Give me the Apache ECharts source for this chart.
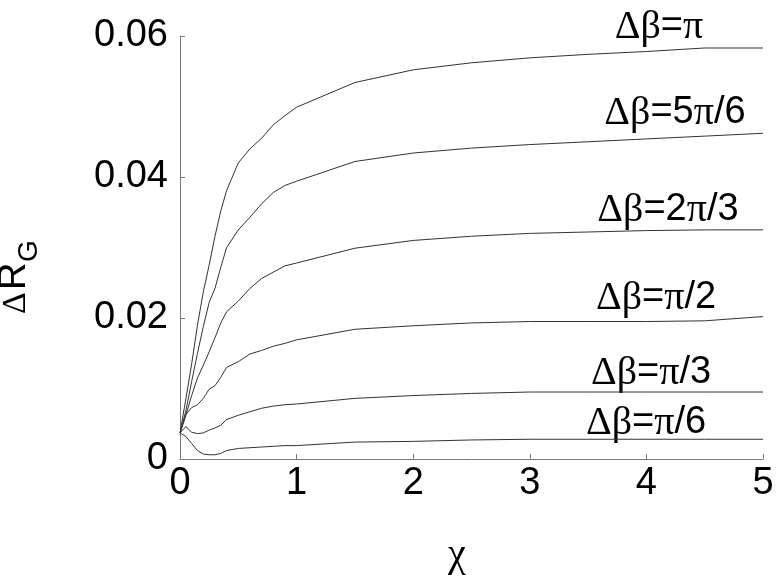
<!DOCTYPE html>
<html>
<head>
<meta charset="utf-8">
<script src="https://cdn.jsdelivr.net/npm/echarts@6/dist/echarts.min.js"></script>
<style>
html,body{margin:0;padding:0;background:#fff;}
#main{width:782px;height:579px;}
</style>
</head>
<body>
<div id="main"></div>
<script>
// χ sample points
var chi = [0, 0.05, 0.1, 0.15, 0.2, 0.25, 0.3, 0.35, 0.4, 0.5, 0.6, 0.7, 0.8, 0.9, 1.0, 1.5, 2, 2.5, 3, 3.5, 4, 4.5, 5];

// ΔR_G values per Δβ
var dPi    = [0.0037, 0.0085, 0.0135, 0.0190, 0.0237, 0.0275, 0.0316, 0.0352, 0.0381, 0.0420, 0.0440, 0.0455, 0.0474, 0.0487, 0.0499, 0.0534, 0.0552, 0.0562, 0.0569, 0.0574, 0.0578, 0.0583, 0.0583];
var d5Pi6  = [0.0037, 0.0068, 0.0110, 0.0150, 0.0188, 0.0222, 0.0242, 0.0272, 0.0300, 0.0325, 0.0343, 0.0362, 0.0378, 0.0388, 0.0394, 0.0422, 0.0434, 0.0441, 0.0446, 0.0450, 0.0454, 0.0458, 0.0462];
var d2Pi3  = [0.0037, 0.0062, 0.0090, 0.0115, 0.0133, 0.0152, 0.0172, 0.0193, 0.0209, 0.0224, 0.0242, 0.0256, 0.0265, 0.0274, 0.0278, 0.0299, 0.0310, 0.0316, 0.0320, 0.0322, 0.0324, 0.0325, 0.0325];
var dPi2   = [0.0037, 0.0063, 0.0073, 0.0077, 0.0086, 0.0099, 0.0104, 0.0116, 0.0130, 0.0138, 0.0149, 0.0154, 0.0160, 0.0164, 0.0169, 0.0184, 0.0189, 0.0193, 0.0195, 0.0195, 0.0195, 0.0196, 0.0202];
var dPi3   = [0.0037, 0.0046, 0.0038, 0.0036, 0.0037, 0.0041, 0.0044, 0.0048, 0.0056, 0.0062, 0.0067, 0.0072, 0.0075, 0.0077, 0.0078, 0.0086, 0.0090, 0.0093, 0.0095, 0.0095, 0.0095, 0.0095, 0.0095];
var dPi6   = [0.0037, 0.0032, 0.0022, 0.0012, 0.0007, 0.0006, 0.0006, 0.0008, 0.0012, 0.0015, 0.0016, 0.0017, 0.0018, 0.0019, 0.0019, 0.0024, 0.0025, 0.0027, 0.0028, 0.0028, 0.0028, 0.0028, 0.0028];

var seriesNames = ['Δβ=π', 'Δβ=5π/6', 'Δβ=2π/3', 'Δβ=π/2', 'Δβ=π/3', 'Δβ=π/6'];
var seriesValues = [dPi, d5Pi6, d2Pi3, dPi2, dPi3, dPi6];
var labelTexts = ['{s|Δβ}{n|=}{s|π}', '{s|Δβ}{n|=5}{s|π}{n|/6}', '{s|Δβ}{n|=2}{s|π}{n|/3}', '{s|Δβ}{n|=}{s|π}{n|/2}', '{s|Δβ}{n|=}{s|π}{n|/3}', '{s|Δβ}{n|=}{s|π}{n|/6}'];
var xTicks = [0, 1, 2, 3, 4, 5];
var yTicks = [0, 0.02, 0.04, 0.06];

// annotation layout (pixels)
var labelPos = [[659, 27], [675, 113], [668, 210], [656, 298], [651, 373], [646, 423]];

var chart = echarts.init(document.getElementById('main'), null, {renderer: 'canvas'});

function pairs(ys) {
  return chi.map(function (x, i) { return [x, ys[i]]; });
}

var sansFont = "'Liberation Sans', Arial, sans-serif";
var serifFont = "'Liberation Serif', 'Times New Roman', serif";

var series = seriesValues.map(function (ys, i) {
  return {
    name: seriesNames[i],
    type: 'line',
    data: pairs(ys),
    showSymbol: false,
    symbol: 'none',
    smooth: false,
    lineStyle: {color: '#333333', width: 1},
    animation: false,
    silent: true
  };
});

var graphics = labelTexts.map(function (t, i) {
  return {
    type: 'text',
    x: labelPos[i][0],
    y: labelPos[i][1],
    silent: true,
    style: {
      text: t,
      fill: '#000',
      font: "38px " + sansFont,
      align: 'center',
      verticalAlign: 'middle',
      rich: {
        s: {font: "40px " + serifFont, fontFamily: serifFont, fontSize: 40, fill: '#000'},
        n: {font: "38px " + sansFont, fontFamily: sansFont, fontSize: 38, fill: '#000'}
      }
    }
  };
});

// y-axis title ΔR_G (rotated)
graphics.push({
  type: 'group',
  x: 33,
  y: 314,
  rotation: Math.PI / 2,
  silent: true,
  children: [
    {type: 'text', x: 0, y: 0, style: {text: 'Δ', font: "34px " + serifFont, fill: '#000', align: 'left', verticalAlign: 'bottom'}},
    {type: 'text', x: 24, y: 1, style: {text: 'R', font: "38px " + sansFont, fill: '#000', align: 'left', verticalAlign: 'bottom'}},
    {type: 'text', x: 52, y: 10, style: {text: 'G', font: "28px " + sansFont, fill: '#000', align: 'left', verticalAlign: 'bottom'}}
  ]
});

// x-axis title χ
graphics.push({
  type: 'text',
  x: 457,
  y: 555,
  silent: true,
  style: {text: 'χ', font: "40px " + serifFont, fill: '#000', align: 'center', verticalAlign: 'middle'}
});

chart.setOption({
  backgroundColor: '#fff',
  animation: false,
  grid: {left: 180, right: 19, top: 36, bottom: 120, containLabel: false},
  xAxis: {
    type: 'value',
    min: xTicks[0],
    max: xTicks[xTicks.length - 1],
    interval: 1,
    axisLine: {show: true, lineStyle: {color: '#7a7a7a', width: 1}},
    axisTick: {show: true, inside: true, length: 5, lineStyle: {color: '#7a7a7a'}},
    axisLabel: {color: '#000', fontFamily: sansFont, fontSize: 38, margin: 6},
    splitLine: {show: false}
  },
  yAxis: {
    type: 'value',
    min: yTicks[0],
    max: yTicks[yTicks.length - 1],
    interval: 0.02,
    axisLine: {show: true, lineStyle: {color: '#7a7a7a', width: 1}},
    axisTick: {show: true, inside: true, length: 5, lineStyle: {color: '#7a7a7a'}},
    axisLabel: {color: '#000', fontFamily: sansFont, fontSize: 38, margin: 12},
    splitLine: {show: false}
  },
  series: series,
  graphic: graphics
});
</script>
</body>
</html>
